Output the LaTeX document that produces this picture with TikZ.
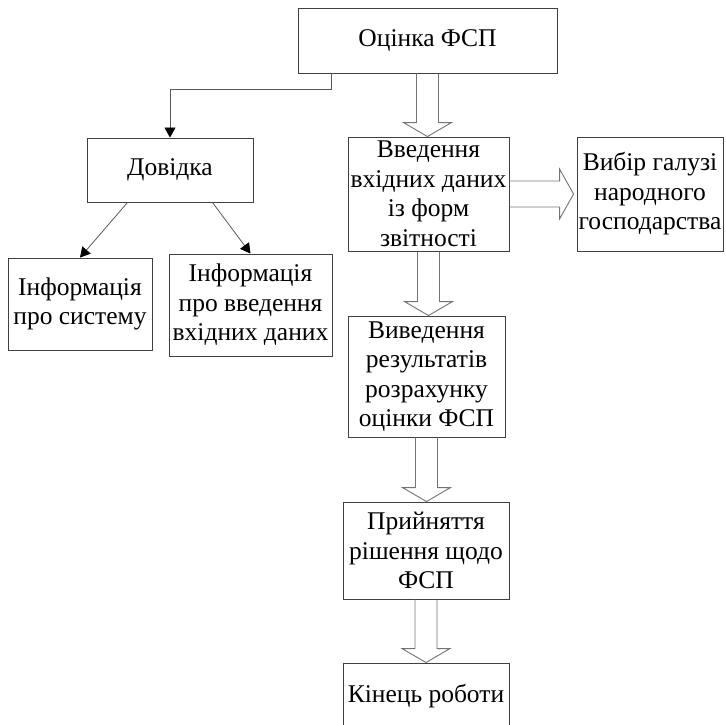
\documentclass[tikz,border=0pt]{standalone}
\usepackage{fontspec}
\setmainfont{Liberation Serif}
\usetikzlibrary{arrows.meta,calc}
\newcommand\hdown[2]{\draw[hol] let \p1=(#1.south), \p2=(#2.north) in
  (\x1-11pt,\y1) -- (\x1-11pt,\y2+14pt) -- (\x1-24pt,\y2+14pt) -- (\x1,\y2)
  -- (\x1+24pt,\y2+14pt) -- (\x1+11pt,\y2+14pt) -- (\x1+11pt,\y1);}
\begin{document}
\begin{tikzpicture}[x=1pt,y=-1pt,
  box/.style={draw=black!75, line width=0.9pt, align=center, inner sep=0pt,
    font=\fontsize{25.5pt}{29.5pt}\selectfont},
  hol/.style={draw=black!55, line width=0.9pt},
  thinarr/.style={draw=black!65, line width=0.8pt,
    -{Triangle[length=10pt,width=11pt,color=black]}}]
\clip (0,0) rectangle (726,725);
\useasboundingbox (0,0) rectangle (726,725);
\node[box, minimum width=259pt, minimum height=65pt] (ots) at (427.5,40.5) {Оцінка ФСП};
\node[box, minimum width=166pt, minimum height=64pt] (dov) at (170,170) {Довідка};
\node[box, minimum width=144pt, minimum height=92pt] (inf1) at (80,304) {Інформація\\про систему};
\node[box, minimum width=163pt, minimum height=102pt] (inf2) at (250.5,305) {Інформація\\про введення\\вхідних даних};
\node[box, minimum width=161pt, minimum height=114pt] (vved) at (428.5,194) {Введення\\вхідних даних\\із форм\\звітності};
\node[box, minimum width=146pt, minimum height=114pt] (vyb) at (650,194) {Вибір галузі\\народного\\господарства};
\node[box, minimum width=157pt, minimum height=121pt] (vyv) at (426.5,376.5) {Виведення\\результатів\\розрахунку\\оцінки ФСП};
\node[box, minimum width=166pt, minimum height=97pt] (pry) at (426,550.5) {Прийняття\\рішення щодо\\ФСП};
\node[box, minimum width=166pt, minimum height=66pt] (kin) at (426,696) {Кінець роботи};
\draw[thinarr] ($(ots.south west)+(34,0)$) -- ++(0,16) -| (dov.north);
\draw[thinarr] ($(dov.south west)+(41,0)$) -- (inf1.north);
\draw[thinarr] ($(dov.south east)+(-41,0)$) -- (inf2.north);
\hdown{ots}{vved}
\hdown{vved}{vyv}
\hdown{vyv}{pry}
\hdown{pry}{kin}
\draw[hol] let \p1=(vved.east), \p2=(vyb.west) in
  (\x1,\y1+13pt) -- (\x2-17pt,\y1+13pt) -- (\x2-17pt,\y1+25pt) -- (\x2-3pt,\y1)
  -- (\x2-17pt,\y1-25pt) -- (\x2-17pt,\y1-13pt) -- (\x1,\y1-13pt);
\end{tikzpicture}
\end{document}
